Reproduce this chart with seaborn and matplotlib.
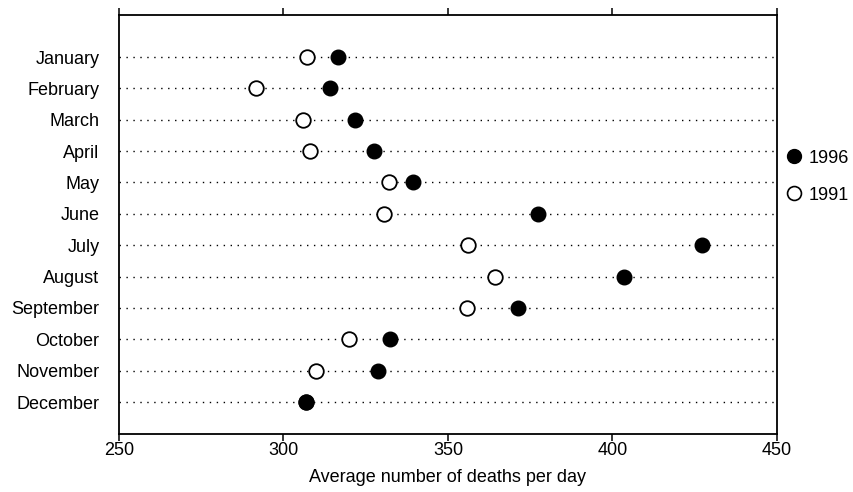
import matplotlib
matplotlib.use("Agg")
import matplotlib.pyplot as plt
import seaborn as sns
import pandas as pd
from matplotlib.lines import Line2D

months = ["January", "February", "March", "April", "May", "June", "July",
          "August", "September", "October", "November", "December"]
deaths_1996 = [316.6, 314.0, 321.6, 327.4, 339.3, 377.3, 427.1, 403.6, 371.2, 332.3, 328.7, 307.0]
deaths_1991 = [307.3, 291.7, 306.0, 308.2, 332.2, 330.7, 356.1, 364.2, 355.7, 320.0, 309.8, 307.0]
x_ticks = [250, 300, 350, 400, 450]

df91 = pd.DataFrame({"month": months, "deaths": deaths_1991})
df96 = pd.DataFrame({"month": months, "deaths": deaths_1996})

sns.set_style("white")
plt.rcParams["font.family"] = ["Liberation Sans", "DejaVu Sans"]
plt.rcParams["text.color"] = "black"
plt.rcParams["axes.labelcolor"] = "black"
plt.rcParams["xtick.color"] = "black"
plt.rcParams["ytick.color"] = "black"

fig = plt.figure(figsize=(8.54, 4.92), dpi=100)
ax = fig.add_axes([0.1393, 0.1179, 0.7705, 0.8516])

ypos = list(range(len(months)))
ax.hlines(ypos, 250, 450, colors="black", linestyles=(0, (1, 4)), linewidth=1.0, zorder=1)

sns.scatterplot(data=df91, x="deaths", y="month", ax=ax, color="white",
                edgecolor="black", linewidth=1.3, s=110, zorder=3, legend=False)
sns.scatterplot(data=df96, x="deaths", y="month", ax=ax, color="black",
                edgecolor="black", linewidth=1.0, s=110, zorder=4, legend=False)

ax.set_xlim(250, 450)
ax.set_ylim(12.02, -1.34)
ax.set_xticks(x_ticks)
ax.set_xticklabels([str(t) for t in x_ticks], fontsize=13, color="black")
ax.set_yticks(ypos)
ax.set_yticklabels(months, fontsize=13, color="black")
ax.set_ylabel("")
ax.set_xlabel("Average number of deaths per day", fontsize=13, labelpad=7, color="black")

for s in ax.spines.values():
    s.set_visible(True)
    s.set_color("black")
    s.set_linewidth(1.3)

ax.tick_params(axis="y", length=0, pad=14)
ax.tick_params(axis="x", which="both", direction="out", length=5, width=1.1,
               color="black", pad=1, top=True, bottom=True, labeltop=False)

handles = [
    Line2D([], [], marker="o", linestyle="none", markersize=10,
           markerfacecolor="black", markeredgecolor="black"),
    Line2D([], [], marker="o", linestyle="none", markersize=10,
           markerfacecolor="white", markeredgecolor="black", markeredgewidth=1.2),
]
ax.legend(handles, ["1996", "1991"], loc="upper left", bbox_to_anchor=(0.998, 0.70),
          frameon=False, fontsize=13, handletextpad=0.3, labelspacing=1.1,
          borderpad=0, handlelength=1.0, labelcolor="black")

fig.savefig("out.png", dpi=100)
